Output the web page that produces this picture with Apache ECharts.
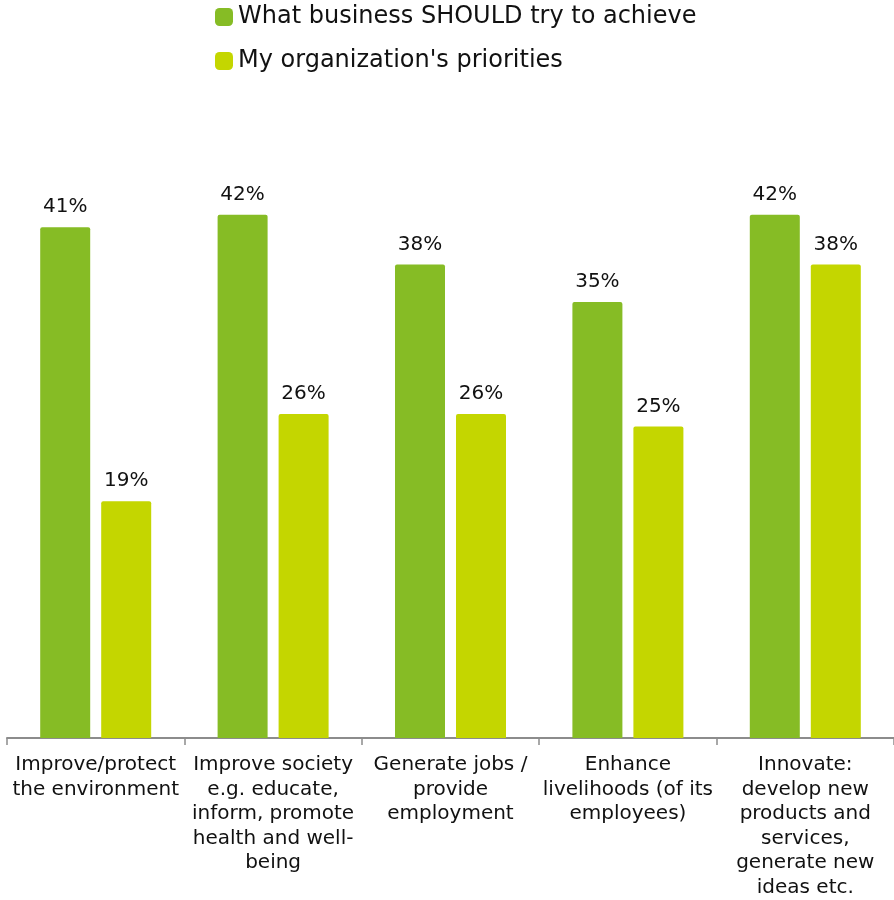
<!DOCTYPE html>
<html>
<head>
<meta charset="utf-8">
<style>
  html, body { margin: 0; padding: 0; background: #ffffff; }
  #chart { width: 894px; height: 900px; }
</style>
<script src="https://cdn.jsdelivr.net/npm/echarts@6/dist/echarts.min.js"></script>
</head>
<body>
<div id="chart"></div>
<script>
// Category labels (line breaks as shown under the axis)
const categories = [
  'Improve/protect\nthe environment',
  'Improve society\ne.g. educate,\ninform, promote\nhealth and well-\nbeing',
  'Generate jobs /\nprovide\nemployment',
  'Enhance\nlivelihoods (of its\nemployees)',
  'Innovate:\ndevelop new\nproducts and\nservices,\ngenerate new\nideas etc.'
];

const seriesNames = ["What business SHOULD try to achieve", "My organization's priorities"];
const shouldAchieve = [41, 42, 38, 35, 42];
const orgPriorities = [19, 26, 26, 25, 38];

const FONT = 'Verdana, "DejaVu Sans", sans-serif';
const GREEN = '#86bc25';
const LIME = '#c4d600';

const chart = echarts.init(document.getElementById('chart'));

function barSeries(name, values, color) {
  return {
    name: name,
    type: 'bar',
    data: values,
    barWidth: 50,
    barGap: '22%',
    itemStyle: { color: color, borderRadius: [2, 2, 0, 0] },
    label: {
      show: true,
      position: 'top',
      distance: 10,
      formatter: '{c}%',
      color: '#111',
      fontFamily: FONT,
      fontSize: 20
    }
  };
}

chart.setOption({
  animation: false,
  backgroundColor: '#ffffff',
  legend: {
    orient: 'vertical',
    left: 210,
    top: 0,
    itemWidth: 18,
    itemHeight: 18,
    itemGap: 20,
    icon: 'roundRect',
    textStyle: { fontFamily: FONT, fontSize: 24, color: '#111', lineHeight: 22 },
    data: seriesNames
  },
  grid: { left: 7, right: -3, top: 115, bottom: 160, containLabel: false },
  xAxis: {
    type: 'category',
    data: categories,
    axisLine: { lineStyle: { color: '#8c8c8c', width: 2 } },
    axisTick: { show: true, length: 7, lineStyle: { color: '#8c8c8c', width: 1.5 } },
    axisLabel: {
      interval: 0,
      margin: 15,
      color: '#111',
      fontFamily: FONT,
      fontSize: 20,
      lineHeight: 24.5,
      align: 'center'
    }
  },
  yAxis: {
    type: 'value',
    min: 0,
    max: 50,
    show: false,
    splitLine: { show: false }
  },
  series: [
    barSeries(seriesNames[0], shouldAchieve, GREEN),
    barSeries(seriesNames[1], orgPriorities, LIME)
  ]
});
</script>
</body>
</html>
